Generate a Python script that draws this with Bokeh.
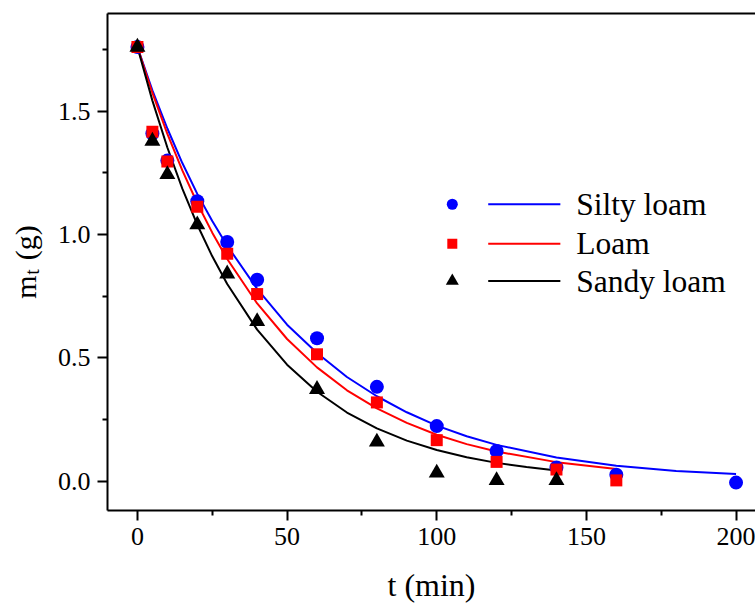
import math
from bokeh.plotting import figure
from bokeh.models import Range1d, FixedTicker, LinearAxis, Label, NumeralTickFormatter
from bokeh.embed import file_html
from bokeh.resources import INLINE

# ---- measured points ----
t_silty = [0, 5, 10, 20, 30, 40, 60, 80, 100, 120, 140, 160, 200]
m_silty = [1.76, 1.41, 1.30, 1.135, 0.97, 0.817, 0.58, 0.383, 0.224, 0.123, 0.056, 0.027, -0.005]

t_loam = [0, 5, 10, 20, 30, 40, 60, 80, 100, 120, 140, 160]
m_loam = [1.76, 1.417, 1.296, 1.113, 0.922, 0.759, 0.515, 0.32, 0.167, 0.079, 0.048, 0.004]

t_sandy = [0, 5, 10, 20, 30, 40, 60, 80, 100, 120, 140]
m_sandy = [1.76, 1.379, 1.244, 1.04, 0.841, 0.648, 0.373, 0.16, 0.034, 0.004, 0.004]

# ---- fitted curves ----
tc_silty = [0, 5, 10, 15, 20, 25, 30, 40, 50, 60, 70, 80, 90, 100, 110, 120, 140, 160, 180, 200]
mc_silty = [1.76, 1.585, 1.43, 1.29, 1.165, 1.055, 0.955, 0.78, 0.635, 0.52, 0.423, 0.345,
            0.28, 0.226, 0.183, 0.148, 0.097, 0.063, 0.042, 0.030]

tc_loam = [0, 5, 10, 15, 20, 25, 30, 40, 50, 60, 70, 80, 90, 100, 110, 120, 140, 160]
mc_loam = [1.76, 1.574, 1.408, 1.26, 1.127, 1.008, 0.901, 0.721, 0.577, 0.462, 0.369, 0.296,
           0.237, 0.189, 0.151, 0.121, 0.078, 0.050]

tc_sandy = [0, 5, 10, 15, 20, 25, 30, 40, 50, 60, 70, 80, 90, 100, 110, 120, 130, 140]
mc_sandy = [1.76, 1.543, 1.353, 1.186, 1.04, 0.912, 0.80, 0.615, 0.473, 0.363, 0.279, 0.215,
            0.165, 0.127, 0.098, 0.075, 0.058, 0.044]

names = ["Silty loam", "Loam", "Sandy loam"]
colors = ["#0000FF", "#FF0000", "#000000"]
markers = ["circle", "square", "triangle"]

x_ticks = [0, 50, 100, 150, 200]
x_minor = [25, 75, 125, 175]
y_ticks = [0.0, 0.5, 1.0, 1.5]
y_minor = [0.25, 0.75, 1.25, 1.75]

FONT = "Liberation Serif"
NB = "\u00a0"

p = figure(width=755, height=605, output_backend="svg", toolbar_location=None,
           x_range=Range1d(-10, 206.5), y_range=Range1d(-0.118, 1.896),
           min_border_left=107, min_border_right=0, min_border_top=13, min_border_bottom=94)
p.outline_line_color = None
p.grid.visible = False
p.background_fill_color = "white"
p.border_fill_color = "white"

p.xaxis.ticker = FixedTicker(ticks=x_ticks, minor_ticks=x_minor)
p.yaxis.ticker = FixedTicker(ticks=y_ticks, minor_ticks=y_minor)
p.yaxis.formatter = NumeralTickFormatter(format="0.0")

for ax in (p.xaxis[0], p.yaxis[0]):
    ax.axis_line_width = 2
    ax.axis_line_color = "black"
    ax.major_tick_line_width = 2
    ax.minor_tick_line_width = 2
    ax.major_tick_out = 10
    ax.major_tick_in = 0
    ax.minor_tick_out = 5
    ax.minor_tick_in = 0
    ax.major_label_text_font = FONT
    ax.major_label_text_font_size = "26px"
    ax.major_label_text_color = "black"

p.xaxis.major_label_standoff = 7
p.yaxis.major_label_standoff = 7
p.xaxis.axis_label = "t (min)"
p.xaxis.axis_label_text_font = FONT
p.xaxis.axis_label_text_font_size = "32px"
p.xaxis.axis_label_text_font_style = "normal"
p.xaxis.axis_label_text_color = "black"
p.xaxis.axis_label_standoff = 19

# y title "m_t (g)": main part on the y axis, subscript on an extra bare axis
p.yaxis.axis_label = "m" + NB + NB + "(g)"
p.yaxis.axis_label_text_font = FONT
p.yaxis.axis_label_text_font_size = "30px"
p.yaxis.axis_label_text_font_style = "normal"
p.yaxis.axis_label_text_color = "black"
p.yaxis.axis_label_standoff = 13

sub_axis = LinearAxis(ticker=FixedTicker(ticks=[]), axis_line_color=None,
                      major_tick_out=0, major_tick_in=0, minor_tick_out=0, minor_tick_in=0,
                      major_label_standoff=0, major_label_text_font_size="0px",
                      axis_label="t" + NB * 4, axis_label_text_font=FONT,
                      axis_label_text_font_size="20px", axis_label_text_font_style="normal",
                      axis_label_text_color="black", axis_label_standoff=-37)
p.add_layout(sub_axis, "left")

top = LinearAxis(ticker=FixedTicker(ticks=[]), axis_line_width=2, axis_line_color="black",
                 major_tick_out=0, major_tick_in=0, minor_tick_out=0, minor_tick_in=0,
                 major_label_standoff=0, major_label_text_font_size="0px")
p.add_layout(top, "above")

# curves
for tc, mc, c in [(tc_silty, mc_silty, colors[0]), (tc_loam, mc_loam, colors[1]),
                  (tc_sandy, mc_sandy, colors[2])]:
    p.line(tc, mc, line_color=c, line_width=2)

# points
p.scatter(t_silty, m_silty, marker="circle", size=14, fill_color=colors[0], line_color=None)
p.scatter(t_loam, m_loam, marker="square", size=12, fill_color=colors[1], line_color=None)
p.scatter(t_sandy, m_sandy, marker="triangle", size=16, fill_color=colors[2], line_color=None)

# legend (manual: marker + line + text side by side)
leg_x_marker = 105.2
leg_x_line = [117.2, 141.3]
leg_x_text = 146.6
leg_rows = [1.123, 0.963, 0.812]
leg_sizes = [11, 10, 13]
for name, c, mk, yy, sz in zip(names, colors, markers, leg_rows, leg_sizes):
    p.scatter([leg_x_marker], [yy], marker=mk, size=sz, fill_color=c, line_color=None)
    p.line(leg_x_line, [yy, yy], line_color=c, line_width=2)
    p.add_layout(Label(x=leg_x_text, y=yy, text=name, text_font=FONT, text_font_size="31.5px",
                       text_color="black", text_baseline="middle", text_align="left"))

open("out.html", "w").write(file_html(p, INLINE))
